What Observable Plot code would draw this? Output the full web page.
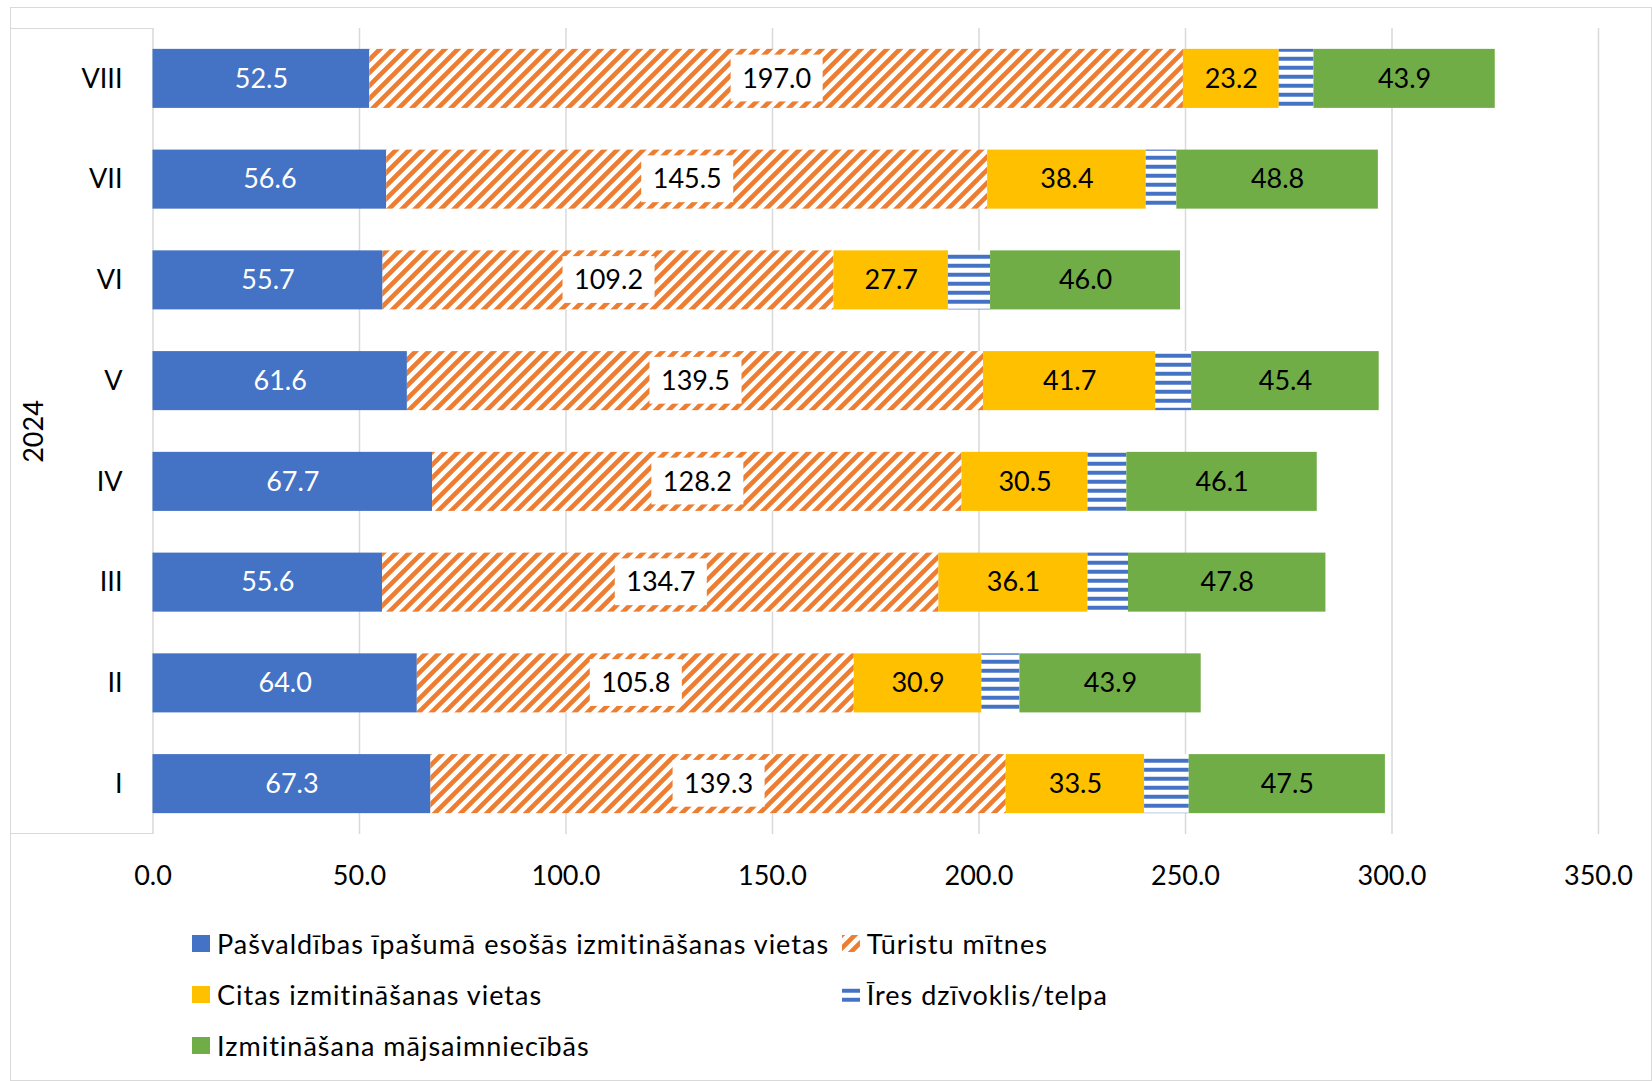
<!DOCTYPE html>
<html>
<head>
<meta charset="utf-8">
<script src="https://cdn.jsdelivr.net/npm/d3@7"></script>
<script src="https://cdn.jsdelivr.net/npm/@observablehq/plot@0.6"></script>
<style>
  html, body { margin: 0; padding: 0; background: #fff; }
  body { font-family: Lato, "Noto Sans", sans-serif; }
  #wrap { position: relative; width: 1652px; height: 1081px; overflow: hidden; }
  .deco { position: absolute; pointer-events: none; box-sizing: border-box; z-index: 5; }
  #legend { display: grid; grid-template-columns: 649.7px auto; grid-auto-rows: 51px; padding-left: 192px; margin-top: 18px; font-size: 27px; color: #000; letter-spacing: 1px; }
  .item { display: flex; align-items: center; white-space: nowrap; }
  .item svg { flex: none; margin-right: 7px; display: block; }
</style>
</head>
<body>
<div id="wrap">
  <div id="chart"></div>
  <div id="legend"></div>
  <div class="deco" style="left:10px; top:7px; width:1642px; height:1074px; border:1.5px solid #d9d9d9;"></div>
  <div class="deco" style="left:10px; top:27.5px; width:143px; height:806px; border-top:1.5px solid #d9d9d9; border-bottom:1.5px solid #d9d9d9;"></div>
</div>
<script>
// ---- data ----
const months = ["VIII", "VII", "VI", "V", "IV", "III", "II", "I"];
const seriesNames = [
  "Pašvaldības īpašumā esošās izmitināšanas vietas",
  "Tūristu mītnes",
  "Citas izmitināšanas vietas",
  "Īres dzīvoklis/telpa",
  "Izmitināšana mājsaimniecībās"
];
const pasvaldibas = [52.5, 56.6, 55.7, 61.6, 67.7, 55.6, 64.0, 67.3];
const turistu     = [197.0, 145.5, 109.2, 139.5, 128.2, 134.7, 105.8, 139.3];
const citas       = [23.2, 38.4, 27.7, 41.7, 30.5, 36.1, 30.9, 33.5];
const ires        = [8.4, 7.4, 10.2, 8.7, 9.4, 9.8, 9.2, 10.8];
const majsaim     = [43.9, 48.8, 46.0, 45.4, 46.1, 47.8, 43.9, 47.5];
const yearLabel = "2024";
const xTicks = [0, 50, 100, 150, 200, 250, 300, 350];

const seriesValues = [pasvaldibas, turistu, citas, ires, majsaim];
const fills = ["#4472C4", "url(#diagOrange)", "#FFC000", "url(#hStripeBlue)", "#70AD47"];

const data = [];
months.forEach((m, i) => {
  seriesNames.forEach((s, k) => data.push({month: m, series: s, value: seriesValues[k][i]}));
});

const fmt = v => v.toFixed(1);
const stackOpts = (textFn) => Plot.stackX({x: "value", y: "month", z: "series", order: seriesNames, text: textFn});

const FONT = 27;

const chart = Plot.plot({
  width: 1652,
  height: 900,
  marginLeft: 152.5,
  marginRight: 54,
  marginTop: 28,
  marginBottom: 66,
  style: {background: "transparent", fontFamily: "Lato, 'Noto Sans', sans-serif", fontSize: FONT + "px", color: "#000"},
  x: {domain: [0, 350], ticks: xTicks},
  y: {domain: months, paddingInner: 0.414, paddingOuter: 0.207, round: false},
  color: {domain: seriesNames, range: fills},
  marks: [
    Plot.gridX(xTicks, {stroke: "#d9d9d9", strokeOpacity: 1, strokeWidth: 1.5}),
    Plot.barX(data, Plot.stackX({x: "value", y: "month", fill: "series", order: seriesNames, inset: 0})),
    Plot.axisX({ticks: xTicks, tickSize: 0, tickPadding: 31, tickFormat: fmt, fontSize: FONT, label: null}),
    Plot.axisY({tickSize: 0, tickPadding: 30.5, fontSize: FONT, label: null}),
    Plot.text(data, {...stackOpts(d => d.series === seriesNames[0] ? fmt(d.value) : ""), fill: "white", fontSize: FONT}),
    Plot.text(data, {...stackOpts(d => (d.series === seriesNames[2] || d.series === seriesNames[4]) ? fmt(d.value) : ""), fill: "black", fontSize: FONT}),
    Plot.text(data, {...stackOpts(d => d.series === seriesNames[1] ? fmt(d.value) : ""), fill: "black", fontSize: FONT, ariaDescription: "tourist-labels"}),
    Plot.text([yearLabel], {frameAnchor: "left", textAnchor: "middle", dx: -119, rotate: -90, fontSize: FONT, fill: "black"})
  ]
});

// pattern definitions
const NS = "http://www.w3.org/2000/svg";
const defs = document.createElementNS(NS, "defs");
defs.innerHTML = `
  <pattern id="diagOrange" patternUnits="userSpaceOnUse" width="13" height="13">
    <rect width="13" height="13" fill="#fff"/>
    <path d="M-3.25,3.25 L3.25,-3.25 M0,13 L13,0 M9.75,16.25 L16.25,9.75" stroke="#ED7D31" stroke-width="4.6"/>
  </pattern>
  <pattern id="hStripeBlue" patternUnits="userSpaceOnUse" width="9" height="9">
    <rect width="9" height="9" fill="#fff"/>
    <rect y="2.5" width="9" height="4.5" fill="#a9bde4"/>
    <rect y="3" width="9" height="3.5" fill="#4472C4"/>
  </pattern>`;
chart.insertBefore(defs, chart.firstChild);

document.getElementById("chart").append(chart);

// white boxes behind tourist labels
chart.querySelectorAll('g[aria-description="tourist-labels"] text').forEach(t => {
  if (!t.textContent) return;
  const b = t.getBBox();
  const r = document.createElementNS(NS, "rect");
  const cy = b.y + b.height / 2;
  r.setAttribute("x", b.x - 11.5);
  r.setAttribute("width", b.width + 23);
  r.setAttribute("y", cy - 23.4 + 1);
  r.setAttribute("height", 46.8);
  r.setAttribute("fill", "#fff");
  const tr = t.getAttribute("transform");
  if (tr) r.setAttribute("transform", tr);
  t.parentNode.insertBefore(r, t);
});

// legend
const legend = document.getElementById("legend");
seriesNames.forEach((s, k) => {
  const item = document.createElement("div");
  item.className = "item";
  item.innerHTML = `<svg width="18" height="17"><rect width="18" height="17" fill="${fills[k]}"/></svg><span>${s}</span>`;
  legend.append(item);
});
</script>
</body>
</html>
